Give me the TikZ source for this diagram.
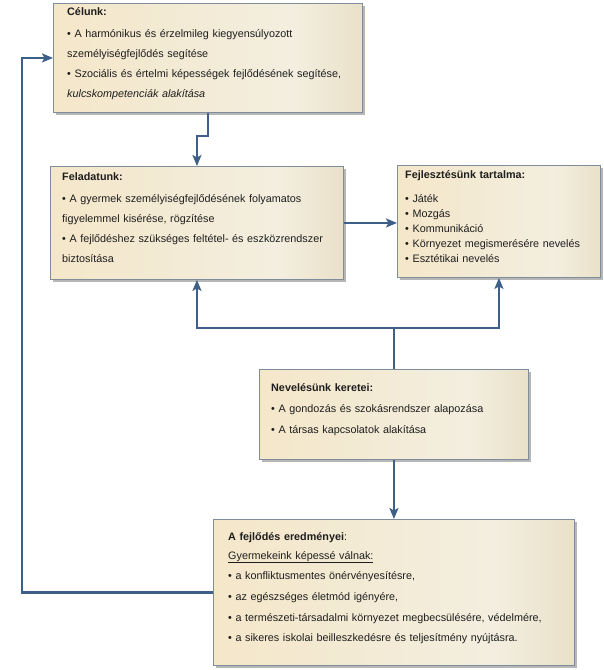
\documentclass[tikz,border=0pt]{standalone}
\usepackage{fontspec}
\setmainfont{Liberation Sans}
\usetikzlibrary{shadows,arrows.meta,calc}
\definecolor{lnc}{HTML}{3D5F88}
\definecolor{bdc}{HTML}{7F8C99}
\definecolor{bl}{HTML}{F4E4C2}
\definecolor{bm}{HTML}{F3EEDF}
\definecolor{br}{HTML}{D4C296}
\definecolor{txc}{HTML}{1E1E1E}
\pgfdeclarehorizontalshading{beige}{100bp}{color(0bp)=(bl); color(20bp)=(bl!85!bm); color(64bp)=(bm); color(100bp)=(br)}
\tikzset{
  box/.style={draw=bdc, line width=0.9pt, shading=beige,
    drop shadow={shadow xshift=2.5pt, shadow yshift=-2.5pt, opacity=0.4, fill=black!70},
    anchor=north west, inner sep=0pt},
  txt/.style={anchor=base west, inner sep=0pt, text width=420pt, align=left, text=txc},
  conn/.style={draw=lnc, line width=2.6pt},
  arr/.style={conn, -{Stealth[length=11pt,width=9pt,inset=2.5pt]}}
}
\begin{document}
\begin{tikzpicture}[x=1pt,y=-1pt]
\useasboundingbox (0,0) rectangle (604,670);
% boxes
\node[box, minimum width=309pt, minimum height=109pt] (cel) at (53,3) {};
\node[box, minimum width=293pt, minimum height=113pt] (fel) at (50,166) {};
\node[box, minimum width=203pt, minimum height=112pt] (fej) at (397,165) {};
\node[box, minimum width=269pt, minimum height=90pt] (nev) at (259,369) {};
\node[box, minimum width=361pt, minimum height=146pt] (ere) at (213,519) {};
% texts
\node[txt, font=\fontsize{10.8}{20}\selectfont] (celt) at (67,15)
 {\textbf{Célunk:}\\[2pt]
  • A harmónikus és érzelmileg kiegyensúlyozott\\
  személyiségfejlődés segítése\\
  • Szociális és értelmi képességek fejlődésének segítése,\\
  \textit{kulcskompetenciák alakítása}};
\node[txt, font=\fontsize{10.8}{20}\selectfont] (felt) at (62,180)
 {\textbf{Feladatunk:}\\[2pt]
  • A gyermek személyiségfejlődésének folyamatos\\
  figyelemmel kisérése, rögzítése\\
  • A fejlődéshez szükséges feltétel- és eszközrendszer\\
  biztosítása};
\node[txt, font=\fontsize{10.8}{15.2}\selectfont] (fejt) at (405,178)
 {\textbf{Fejlesztésünk tartalma:}\\[8.8pt]
  • Játék\\
  • Mozgás\\
  • Kommunikáció\\
  • Környezet megismerésére nevelés\\
  • Esztétikai nevelés};
\node[txt, font=\fontsize{10.8}{21}\selectfont] (nevt) at (271,391)
 {\textbf{Nevelésünk keretei:}\\
  • A gondozás és szokásrendszer alapozása\\
  • A társas kapcsolatok alakítása};
\node[txt, font=\fontsize{10.8}{20}\selectfont] (eret) at (228,540)
 {\textbf{A fejlődés eredményei}:\\[-1pt]
  \underline{Gyermekeink képessé válnak:}\\
  • a konfliktusmentes önérvényesítésre,\\[1pt]
  • az egészséges életmód igényére,\\[1pt]
  • a természeti-társadalmi környezet megbecsülésére, védelmére,\\
  • a sikeres iskolai beilleszkedésre és teljesítmény nyújtásra.};
% connectors
\draw[arr] (cel.south) -- ++(0,23) -| (fel.north);
\draw[arr] (fel.east) -- (fel.east -| fej.west);
\draw[conn] (nev.north) -- ++(0,-41) coordinate (j);
\draw[arr] (j) -| (fel.south);
\draw[arr] (j) -| (fej.south);
\draw[arr] (nev.south) -- (ere.north);
\draw[arr] (ere.west) -- ++(-191,0) |- (cel.west);
\end{tikzpicture}
\end{document}
